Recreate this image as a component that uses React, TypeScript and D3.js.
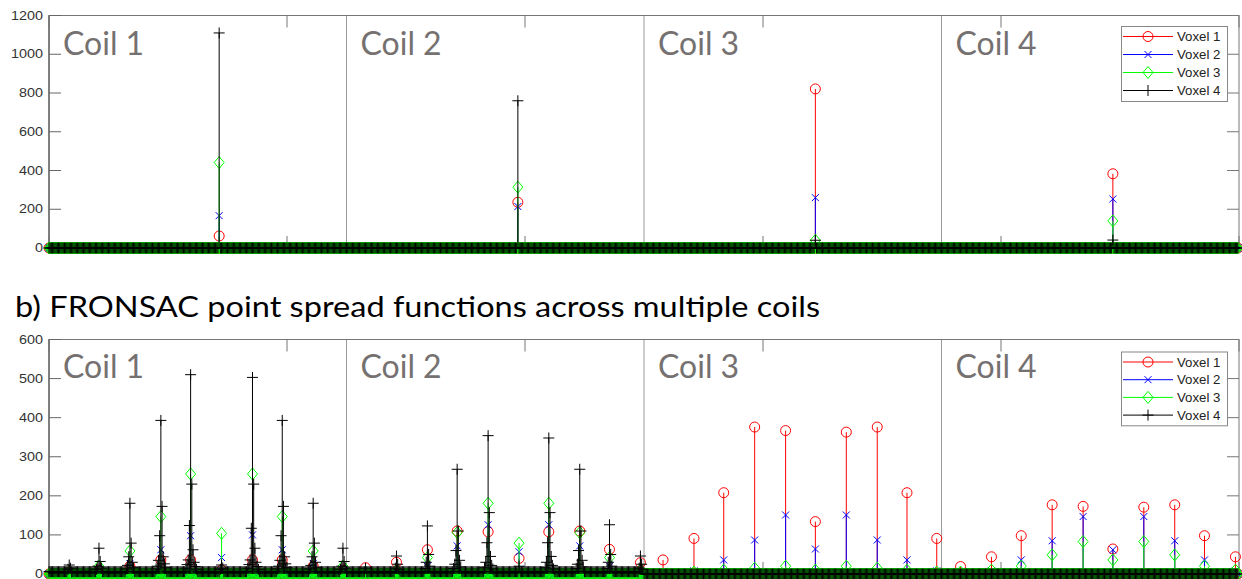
import * as d3 from "d3";
import { useMemo } from "react";

const W = 1242;
const H = 579;

// shared x layout (both panels use the same axis)
const N_POINTS = 1000;
const POINTS_PER_COIL = 250;
const X_TICKS = [0, 200, 400, 600, 800, 1000];
const COIL_EDGES = [250, 500, 750];
const COIL_LABELS = ["Coil 1", "Coil 2", "Coil 3", "Coil 4"];
const VOXEL_LABELS = ["Voxel 1", "Voxel 2", "Voxel 3", "Voxel 4"];
const VOXEL_COLORS = ["#ff0000", "#0000ff", "#00ff00", "#000000"];
const VOXEL_MARKERS = ["o", "x", "d", "+"];

// a) one peak per coil
const topYTicks = [0, 200, 400, 600, 800, 1000, 1200];
const topPeakIdx = [143, 394, 644, 894];
const topV1 = [62, 236, 821, 383];
const topV2 = [167, 214, 260, 253];
const topV3 = [441, 314, 40, 140];
const topV4 = [1110, 760, 40, 41];

// b) FRONSAC, ten aliased peaks per coil
const botYTicks = [0, 100, 200, 300, 400, 500, 600];
const botPeakIdx = [
  17, 42, 68, 94, 119, 145, 171, 196, 222, 247,
  266, 292, 318, 343, 369, 395, 420, 446, 471, 497,
  516, 542, 567, 593, 619, 644, 670, 696, 721, 746,
  766, 792, 817, 843, 869, 894, 920, 946, 971, 997,
];
const botV1 = [
  5, 10, 20, 36, 36, 10, 36, 36, 20, 10,
  16, 30, 62, 110, 108, 40, 108, 110, 63, 29,
  36, 91, 208, 376, 367, 134, 363, 376, 208, 91,
  19, 44, 98, 177, 173, 64, 171, 177, 98, 44,
];
const botV2 = [
  0, 5, 27, 62, 98, 42, 100, 62, 27, 5,
  0, 8, 20, 72, 126, 57, 126, 72, 20, 8,
  0, 8, 36, 87, 151, 64, 151, 87, 36, 8,
  0, 8, 36, 85, 147, 62, 147, 85, 36, 8,
];
const botV3 = [
  5, 20, 59, 147, 256, 104, 256, 147, 59, 20,
  5, 10, 42, 106, 181, 79, 181, 106, 42, 10,
  0, 5, 10, 15, 20, 10, 20, 15, 10, 5,
  5, 10, 20, 49, 83, 36, 83, 49, 20, 10,
];
const botV4 = [
  23, 66, 181, 393, 510, 23, 503, 393, 181, 66,
  15, 46, 123, 268, 354, 20, 348, 268, 126, 46,
  0, 0, 0, 0, 0, 0, 0, 0, 0, 0,
  0, 0, 0, 0, 0, 0, 0, 0, 0, 0,
];
// neighbouring samples of the black peaks (next right, next left, ...)
const botV4Sides = [
  [15, 12], [32, 20, 15, 12], [79, 44, 30, 22, 16, 13], [173, 98, 44, 35, 26, 20, 16, 13],
  [230, 124, 62, 36, 30, 24, 19, 15, 12], [15, 12], [230, 117, 66, 36, 30, 24, 19, 15, 12],
  [173, 98, 44, 35, 26, 20, 16, 13], [79, 44, 30, 22, 16, 13], [32, 20, 15, 12],
  [], [25, 15, 12], [50, 30, 20, 14], [110, 60, 35, 25, 18, 14], [157, 80, 45, 30, 22, 16, 13],
  [], [157, 80, 45, 30, 22, 16, 13], [110, 60, 35, 25, 18, 14], [50, 30, 20, 14], [25, 15, 12],
];
// noise floor of voxel 4 per coil
const botV4Floor = [6, 6, 0, 0];

const X0 = 49;
const X1 = 1239;

function buildSeries(peakIdx, values, sides = [], floor = [0, 0, 0, 0]) {
  const ys = d3.range(N_POINTS).map((i) => floor[Math.floor(i / POINTS_PER_COIL)]);
  peakIdx.forEach((idx, j) => {
    ys[idx] = Math.max(ys[idx], values[j]);
    (sides[j] || []).forEach((v, k) => {
      const off = k % 2 === 0 ? k / 2 + 1 : -(k + 1) / 2;
      const p = idx + off;
      if (p >= 0 && p < N_POINTS) ys[p] = Math.max(ys[p], v);
    });
  });
  return ys;
}

function markerPath(kind, x, y) {
  switch (kind) {
    case "o":
      return `M${x + 5},${y}A5,5 0 1,1 ${x - 5},${y}A5,5 0 1,1 ${x + 5},${y}`;
    case "x":
      return `M${x - 3.5},${y - 3.5}L${x + 3.5},${y + 3.5}M${x - 3.5},${y + 3.5}L${x + 3.5},${y - 3.5}`;
    case "d":
      return `M${x},${y - 6}L${x + 5},${y}L${x},${y + 6}L${x - 5},${y}Z`;
    default:
      return `M${x - 5.5},${y}H${x + 5.5}M${x},${y - 5.5}V${y + 5.5}`;
  }
}

const Panel = ({ top, bottom, yMax, yTicks, series, labelBaseline, legendTop, legendStep }) => {
  const x = d3.scaleLinear().domain([0, N_POINTS]).range([X0, X1]);
  const y = d3.scaleLinear().domain([0, yMax]).range([bottom, top]);

  const paths = useMemo(
    () =>
      series.map((ys, s) => {
        let stems = "";
        let marks = "";
        ys.forEach((v, i) => {
          const px = x(i);
          if (v > 0) stems += `M${px},${y(0)}V${y(v)}`;
          marks += markerPath(VOXEL_MARKERS[s], px, y(v));
        });
        return { stems, marks };
      }),
    [series, top, bottom, yMax]
  );

  const tickLen = 12;
  return (
    <g>
      {COIL_EDGES.map((e) => (
        <line key={e} x1={x(e)} x2={x(e)} y1={top} y2={bottom} stroke="#9a9a9a" strokeWidth={1} />
      ))}
      <rect x={X0} y={top} width={X1 - X0} height={bottom - top} fill="none" stroke="#777" strokeWidth={1} />
      <line x1={X0} x2={X0} y1={top} y2={bottom} stroke="#444" strokeWidth={1} />
      {X_TICKS.map((t) => (
        <g key={t} stroke="#777">
          <line x1={x(t)} x2={x(t)} y1={top} y2={top + tickLen} />
          <line x1={x(t)} x2={x(t)} y1={bottom} y2={bottom - tickLen} />
        </g>
      ))}
      {yTicks.map((t) => (
        <g key={t}>
          <line x1={X0} x2={X0 + tickLen} y1={y(t)} y2={y(t)} stroke="#666" />
          <line x1={X1} x2={X1 - tickLen} y1={y(t)} y2={y(t)} stroke="#777" />
          <text
            transform={`translate(43,${y(t)}) scale(1.15,1)`}
            textAnchor="end"
            dy="0.33em"
            fontSize={12.5}
            fill="#333"
            fontFamily="'Liberation Sans', Arial, sans-serif"
          >
            {t}
          </text>
        </g>
      ))}
      {paths.map((p, s) => (
        <g key={s} fill="none" stroke={VOXEL_COLORS[s]} strokeWidth={1}>
          <path d={p.stems} />
          <path d={p.marks} />
        </g>
      ))}
      {COIL_LABELS.map((c, k) => (
        <text
          key={c}
          x={x(k * POINTS_PER_COIL) + 14}
          y={labelBaseline}
          fontSize={32}
          fill="#767171"
          fontFamily="Lato, 'Open Sans', sans-serif"
        >
          {c}
        </text>
      ))}
      <g>
        <rect
          x={1121.5}
          y={legendTop - 10}
          width={106}
          height={legendStep * 4 + 3}
          fill="#fff"
          stroke="#888"
          strokeWidth={1}
        />
        {VOXEL_LABELS.map((lab, s) => {
          const ly = legendTop + s * legendStep;
          return (
            <g key={lab}>
              <line x1={1123} x2={1173} y1={ly} y2={ly} stroke={VOXEL_COLORS[s]} strokeWidth={1} />
              <path d={markerPath(VOXEL_MARKERS[s], 1148, ly)} fill="none" stroke={VOXEL_COLORS[s]} />
              <text
                transform={`translate(1177,${ly}) scale(1.06,1)`}
                dy="0.36em"
                fontSize={12.5}
                fill="#222"
                fontFamily="'Liberation Sans', Arial, sans-serif"
              >
                {lab}
              </text>
            </g>
          );
        })}
      </g>
    </g>
  );
};

export default function App() {
  const topSeries = useMemo(
    () => [topV1, topV2, topV3, topV4].map((v) => buildSeries(topPeakIdx, v)),
    []
  );
  const botSeries = useMemo(
    () => [
      buildSeries(botPeakIdx, botV1),
      buildSeries(botPeakIdx, botV2),
      buildSeries(botPeakIdx, botV3),
      buildSeries(botPeakIdx, botV4, botV4Sides, botV4Floor),
    ],
    []
  );

  return (
    <svg
      width={W}
      height={H}
      style={{ position: "absolute", left: 0, top: 0, background: "#fff" }}
    >
      <rect width={W} height={H} fill="#fff" />
      <Panel
        top={15.5}
        bottom={248}
        yMax={1200}
        yTicks={topYTicks}
        series={topSeries}
        labelBaseline={55}
        legendTop={36.5}
        legendStep={18}
      />
      <text
        x={15}
        y={317}
        fontSize={29}
        textLength={805}
        lengthAdjust="spacingAndGlyphs"
        fill="#000"
        fontFamily="Lato, 'Open Sans', sans-serif"
      >
        b) FRONSAC point spread functions across multiple coils
      </text>
      <Panel
        top={339.5}
        bottom={574}
        yMax={600}
        yTicks={botYTicks}
        series={botSeries}
        labelBaseline={378}
        legendTop={362}
        legendStep={17.7}
      />
    </svg>
  );
}
